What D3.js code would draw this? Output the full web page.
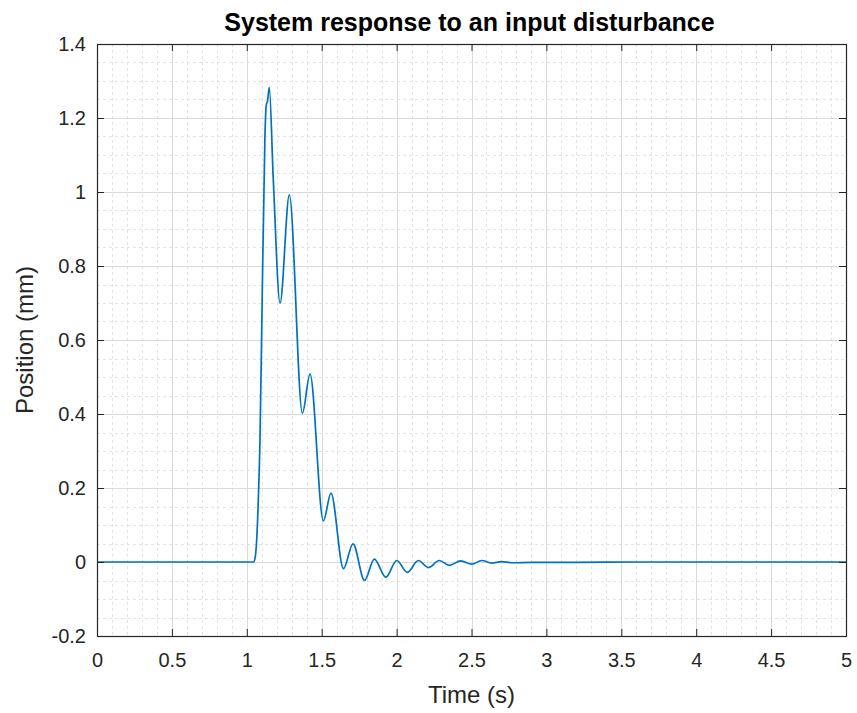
<!DOCTYPE html>
<html>
<head>
<meta charset="utf-8">
<script src="https://cdn.jsdelivr.net/npm/d3@7"></script>
<style>
  html, body { margin: 0; padding: 0; background: #fff; }
  svg { display: block; font-family: "Liberation Sans", Arial, Helvetica, sans-serif; }
</style>
</head>
<body>
<svg id="chart" width="857" height="713"></svg>
<script>
// ---- data ----
const titleText = "System response to an input disturbance";
const xLabel = "Time (s)";
const yLabel = "Position (mm)";
const xTicks = [0, 0.5, 1, 1.5, 2, 2.5, 3, 3.5, 4, 4.5, 5];
const xTickLabels = ["0", "0.5", "1", "1.5", "2", "2.5", "3", "3.5", "4", "4.5", "5"];
const yTicks = [-0.2, 0, 0.2, 0.4, 0.6, 0.8, 1, 1.2, 1.4];
const yTickLabels = ["-0.2", "0", "0.2", "0.4", "0.6", "0.8", "1", "1.2", "1.4"];
const timeValues = [
  0, 0.5, 1.0, 1.045, 1.055, 1.066, 1.077, 1.088, 1.10, 1.121, 1.130, 1.138, 1.150,
  1.177, 1.222, 1.284, 1.371, 1.422, 1.511, 1.562, 1.645, 1.709, 1.786, 1.851,
  1.928, 2.001, 2.071, 2.145, 2.212, 2.285, 2.352, 2.428, 2.501, 2.568, 2.635,
  2.70, 2.77, 2.90, 3.2, 3.6, 4.0, 4.5, 5.0
];
const positionValues = [
  0, 0, 0, 0, 0.01, 0.06, 0.17, 0.33, 0.64, 1.15, 1.235, 1.245, 1.283,
  1.032, 0.700, 0.992, 0.402, 0.508, 0.111, 0.186, -0.018, 0.049, -0.050, 0.008,
  -0.041, 0.004, -0.028, 0.004, -0.015, 0.004, -0.009, 0.003, -0.006, 0.004, -0.003,
  0.001, -0.002, -0.001, -0.001, 0, 0, 0, 0
];

(function () {
// ---- layout ----
const svg = d3.select("#chart");
const pl = 97, pr = 846, pt = 44, pb = 636;
const x = d3.scaleLinear().domain([0, 5]).range([pl, pr]);
const y = d3.scaleLinear().domain([-0.2, 1.4]).range([pb, pt]);

const minorX = d3.range(0, 5.0001, 0.1).filter(v => Math.abs(v * 2 - Math.round(v * 2)) > 1e-6);
const minorY = d3.range(-0.2, 1.4001, 0.05).filter(v => Math.abs(v * 5 - Math.round(v * 5)) > 1e-6);

// minor grid
const gMinor = svg.append("g").attr("stroke", "#e3e3e3").attr("stroke-width", 1).attr("stroke-dasharray", "3,3");
gMinor.selectAll("line.mx").data(minorX).join("line")
  .attr("x1", d => Math.round(x(d)) + 0.5).attr("x2", d => Math.round(x(d)) + 0.5)
  .attr("y1", pt).attr("y2", pb);
gMinor.selectAll("line.my").data(minorY).join("line")
  .attr("y1", d => Math.round(y(d)) + 0.5).attr("y2", d => Math.round(y(d)) + 0.5)
  .attr("x1", pl).attr("x2", pr);

// major grid
const gMajor = svg.append("g").attr("stroke", "#dadada").attr("stroke-width", 1);
gMajor.selectAll("line.gx").data(xTicks).join("line")
  .attr("x1", d => Math.round(x(d)) + 0.5).attr("x2", d => Math.round(x(d)) + 0.5)
  .attr("y1", pt).attr("y2", pb);
gMajor.selectAll("line.gy").data(yTicks).join("line")
  .attr("y1", d => Math.round(y(d)) + 0.5).attr("y2", d => Math.round(y(d)) + 0.5)
  .attr("x1", pl).attr("x2", pr);

// data line
const pts = timeValues.map((t, i) => [t, positionValues[i]]);
const line = d3.line().x(d => x(d[0])).y(d => y(d[1])).curve(d3.curveMonotoneX);
svg.append("path").datum(pts)
  .attr("fill", "none").attr("stroke", "#0072BD").attr("stroke-width", 1.7)
  .attr("stroke-linejoin", "round").attr("d", line);

// axes (ticks inward, box on)
const tickLen = 7;
const axisColor = "#262626";
const fmtX = (d, i) => xTickLabels[i];
const fmtY = (d, i) => yTickLabels[i];
const axB = svg.append("g").attr("transform", `translate(0,${pb})`)
  .call(d3.axisBottom(x).tickValues(xTicks).tickFormat(fmtX).tickSizeInner(-tickLen).tickSizeOuter(0).tickPadding(17));
const axL = svg.append("g").attr("transform", `translate(${pl},0)`)
  .call(d3.axisLeft(y).tickValues(yTicks).tickFormat(fmtY).tickSizeInner(-tickLen).tickSizeOuter(0).tickPadding(11));
const axT = svg.append("g").attr("transform", `translate(0,${pt})`)
  .call(d3.axisTop(x).tickValues(xTicks).tickFormat("").tickSizeInner(-tickLen).tickSizeOuter(0));
const axR = svg.append("g").attr("transform", `translate(${pr},0)`)
  .call(d3.axisRight(y).tickValues(yTicks).tickFormat("").tickSizeInner(-tickLen).tickSizeOuter(0));
[axB, axL, axT, axR].forEach(g => {
  g.select(".domain").remove();
  g.selectAll(".tick line").attr("stroke", axisColor).attr("stroke-width", 1);
  g.selectAll("text").attr("fill", "#262626").attr("font-size", 20)
    .attr("font-family", "'Liberation Sans', Arial, sans-serif");
});
// box
svg.append("rect").attr("x", pl + 0.5).attr("y", pt + 0.5)
  .attr("width", pr - pl).attr("height", pb - pt)
  .attr("fill", "none").attr("stroke", axisColor).attr("stroke-width", 1.2);

// labels
svg.append("text").attr("x", (pl + pr) / 2 - 2).attr("y", 31)
  .attr("text-anchor", "middle").attr("font-weight", "bold").attr("font-size", 25)
  .attr("fill", "#000").text(titleText);
svg.append("text").attr("x", (pl + pr) / 2).attr("y", 703)
  .attr("text-anchor", "middle").attr("font-size", 24).attr("fill", "#262626").text(xLabel);
svg.append("text").attr("transform", `translate(33,${(pt + pb) / 2}) rotate(-90)`)
  .attr("text-anchor", "middle").attr("font-size", 24).attr("fill", "#262626").text(yLabel);
})();
</script>
</body>
</html>
